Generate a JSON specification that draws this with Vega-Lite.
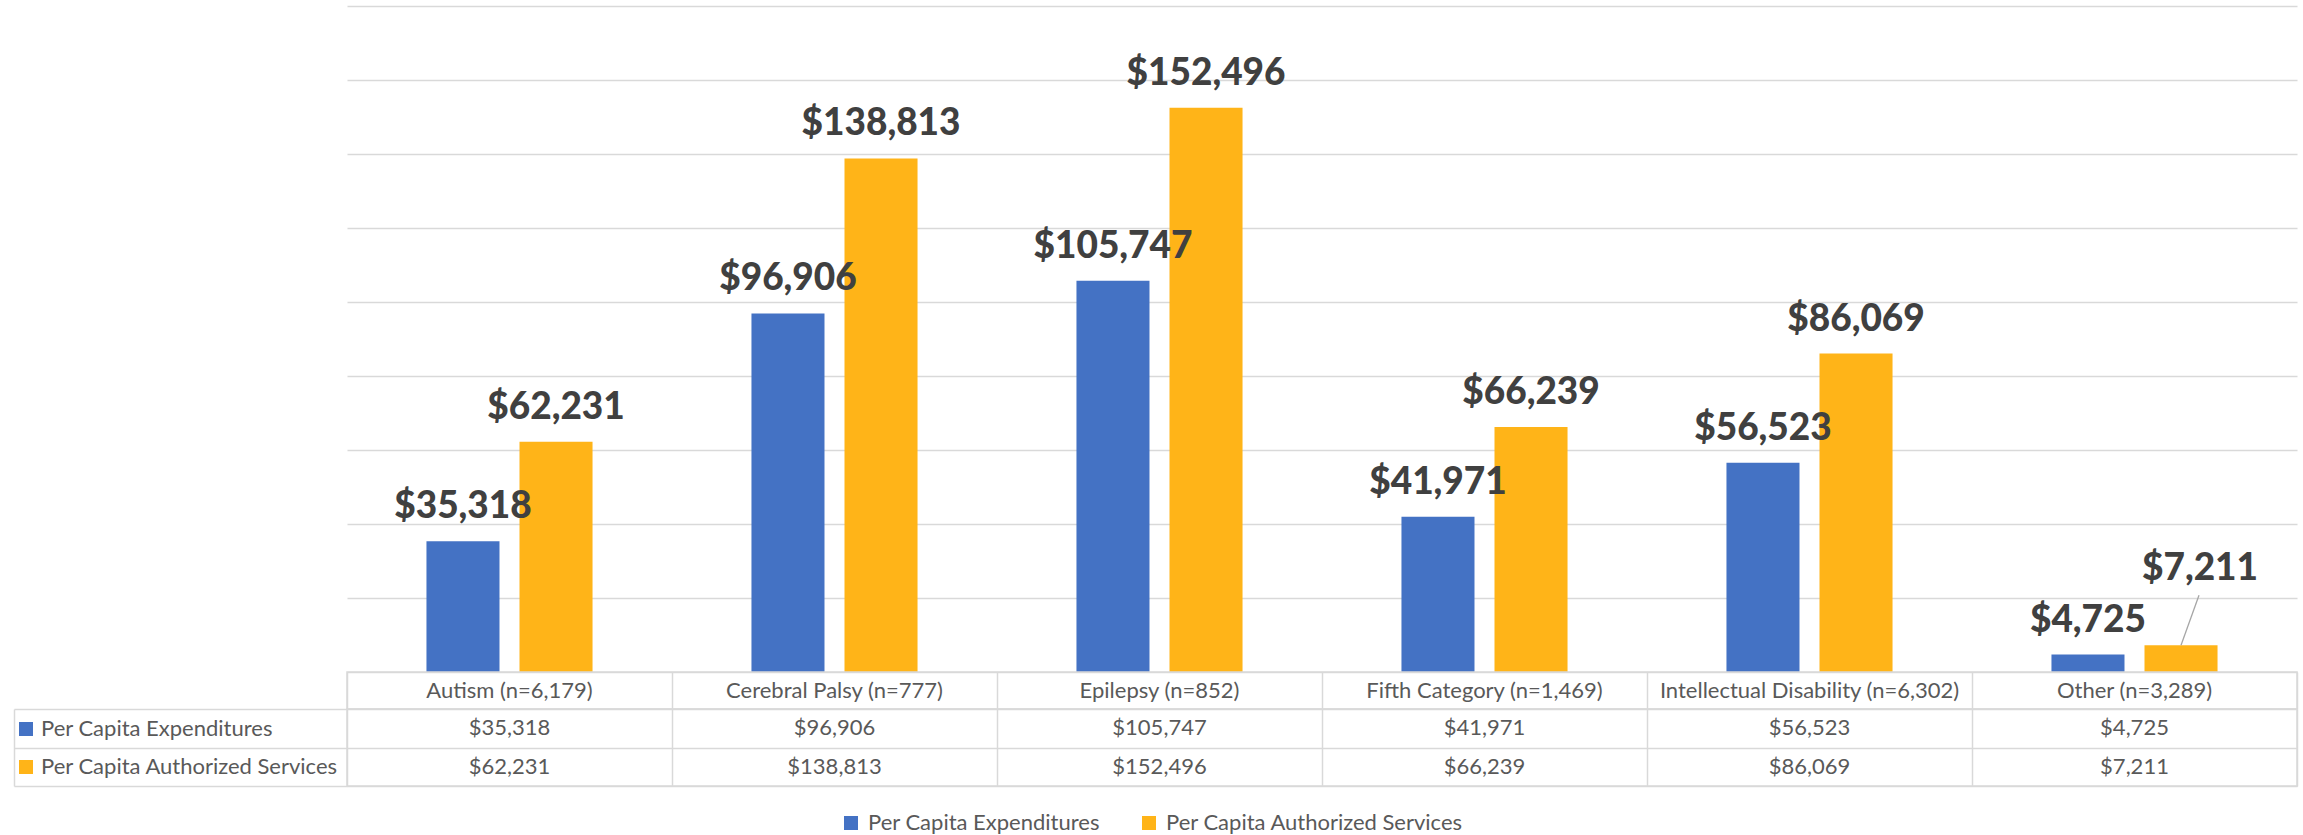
{
  "$schema": "https://vega.github.io/schema/vega-lite/v6.json",
  "padding": {"left": 12, "top": 6, "right": 8, "bottom": 0},
  "autosize": {"type": "pad"},
  "bounds": "flush",
  "spacing": 0,
  "background": "white",
  "datasets": {
    "bars": [
      {"category": "Autism (n=6,179)", "series": "Per Capita Expenditures", "value": 35318},
      {"category": "Cerebral Palsy (n=777)", "series": "Per Capita Expenditures", "value": 96906},
      {"category": "Epilepsy (n=852)", "series": "Per Capita Expenditures", "value": 105747},
      {"category": "Fifth Category (n=1,469)", "series": "Per Capita Expenditures", "value": 41971},
      {"category": "Intellectual Disability (n=6,302)", "series": "Per Capita Expenditures", "value": 56523},
      {"category": "Other (n=3,289)", "series": "Per Capita Expenditures", "value": 4725},
      {"category": "Autism (n=6,179)", "series": "Per Capita Authorized Services", "value": 62231},
      {"category": "Cerebral Palsy (n=777)", "series": "Per Capita Authorized Services", "value": 138813},
      {"category": "Epilepsy (n=852)", "series": "Per Capita Authorized Services", "value": 152496},
      {"category": "Fifth Category (n=1,469)", "series": "Per Capita Authorized Services", "value": 66239},
      {"category": "Intellectual Disability (n=6,302)", "series": "Per Capita Authorized Services", "value": 86069},
      {"category": "Other (n=3,289)", "series": "Per Capita Authorized Services", "value": 7211}
    ]
  },
  "resolve": {"legend": {"color": "independent"}},
  "vconcat": [
    {
      "width": 1950,
      "height": 666,
      "view": {"stroke": null},
      "data": {"name": "bars"},
      "encoding": {
        "x": {"field": "category", "type": "nominal", "sort": null, "scale": {"paddingInner": 0.489, "paddingOuter": 0.2445}, "axis": null},
        "xOffset": {"field": "series", "type": "nominal", "sort": ["Per Capita Expenditures", "Per Capita Authorized Services"], "scale": {"paddingInner": 0.215, "paddingOuter": 0}},
        "y": {"field": "value", "type": "quantitative", "scale": {"domain": [0, 180000], "nice": false, "zero": true},
          "axis": {"title": null, "labels": false, "ticks": false, "domain": false, "grid": true, "values": [0, 20000, 40000, 60000, 80000, 100000, 120000, 140000, 160000, 180000], "gridColor": "#D9D9D9", "gridWidth": 1.5}}
      },
      "layer": [
        {
          "mark": {"type": "bar"},
          "encoding": {
            "color": {"field": "series", "type": "nominal", "sort": ["Per Capita Expenditures", "Per Capita Authorized Services"],
              "scale": {"domain": ["Per Capita Expenditures", "Per Capita Authorized Services"], "range": ["#4472C4", "#FFB418"]},
              "legend": {"orient": "none", "legendX": -332, "legendY": 712, "direction": "vertical", "title": null, "symbolType": "square", "symbolSize": 196, "symbolStrokeWidth": 0, "symbolOpacity": 1, "labelFont": "Lato", "labelFontSize": 22, "labelColor": "#595959", "labelOffset": 4, "rowPadding": 16, "padding": 0, "offset": 0, "labelLimit": 400}}
          }
        },
        {
          "transform": [{"filter": "datum.category !== 'Other (n=3,289)' || datum.series !== 'Per Capita Authorized Services'"}],
          "mark": {"type": "text", "baseline": "alphabetic", "dy": -23, "font": "Lato", "fontWeight": 900, "fontSize": 37, "color": "#404040"},
          "encoding": {"text": {"field": "value", "type": "quantitative", "format": "$,.0f"}}
        },
        {
          "transform": [{"filter": "datum.category === 'Other (n=3,289)' && datum.series === 'Per Capita Authorized Services'"}],
          "mark": {"type": "text", "baseline": "alphabetic", "dy": -65, "dx": 19, "font": "Lato", "fontWeight": 900, "fontSize": 37, "color": "#404040"},
          "encoding": {"text": {"field": "value", "type": "quantitative", "format": "$,.0f"}}
        },
        {
          "transform": [{"filter": "datum.category === 'Other (n=3,289)' && datum.series === 'Per Capita Authorized Services'"}],
          "mark": {"type": "rule", "color": "#A6A6A6", "strokeWidth": 1.3, "y2Offset": -50, "x2Offset": 64.5},
          "encoding": {"y2": {"field": "value"}, "x2": {"field": "category"}}
        }
      ]
    },
    {
      "width": 1950,
      "height": 37,
      "view": {"stroke": "#D9D9D9", "strokeWidth": 1.5},
      "data": {"name": "bars"},
      "transform": [{"filter": "datum.series === 'Per Capita Expenditures'"}],
      "mark": {"type": "text", "font": "Lato", "fontSize": 22, "color": "#595959"},
      "encoding": {
        "x": {"field": "category", "type": "nominal", "sort": null, "scale": {"paddingInner": 0, "paddingOuter": 0},
          "axis": {"title": null, "labels": false, "ticks": false, "domain": false, "grid": true, "tickBand": "extent", "gridColor": "#D9D9D9", "gridWidth": 1.5}},
        "text": {"field": "category"}
      }
    },
    {
      "width": 1950,
      "height": 77,
      "view": {"stroke": "#D9D9D9", "strokeWidth": 1.5},
      "data": {"name": "bars"},
      "encoding": {
        "x": {"field": "category", "type": "nominal", "sort": null, "scale": {"paddingInner": 0, "paddingOuter": 0},
          "axis": {"title": null, "labels": false, "ticks": false, "domain": false, "grid": true, "tickBand": "extent", "gridColor": "#D9D9D9", "gridWidth": 1.5}},
        "y": {"field": "series", "type": "nominal", "sort": ["Per Capita Expenditures", "Per Capita Authorized Services"], "scale": {"paddingInner": 0, "paddingOuter": 0},
          "axis": {"title": null, "labels": false, "grid": true, "tickBand": "extent", "gridColor": "#D9D9D9", "gridWidth": 1.5, "ticks": true, "tickSize": -333, "tickColor": "#D9D9D9", "tickWidth": 1.5, "domain": true, "domainColor": "#D9D9D9", "domainWidth": 1.5, "offset": 333}}
      },
      "layer": [
        {
          "mark": {"type": "text", "font": "Lato", "fontSize": 22, "color": "#595959"},
          "encoding": {"text": {"field": "value", "type": "quantitative", "format": "$,.0f"}}
        },
        {
          "mark": {"type": "point", "shape": "square", "filled": true, "opacity": 0},
          "encoding": {
            "color": {"field": "series", "type": "nominal", "sort": ["Per Capita Expenditures", "Per Capita Authorized Services"],
              "legend": {"orient": "none", "legendX": 493, "legendY": 103, "direction": "horizontal", "title": null, "symbolType": "square", "symbolSize": 196, "symbolStrokeWidth": 0, "symbolOpacity": 1, "labelFont": "Lato", "labelFontSize": 22, "labelColor": "#595959", "labelOffset": 6, "columnPadding": 38, "padding": 0, "offset": 0, "labelLimit": 400}}
          }
        }
      ]
    }
  ]
}
